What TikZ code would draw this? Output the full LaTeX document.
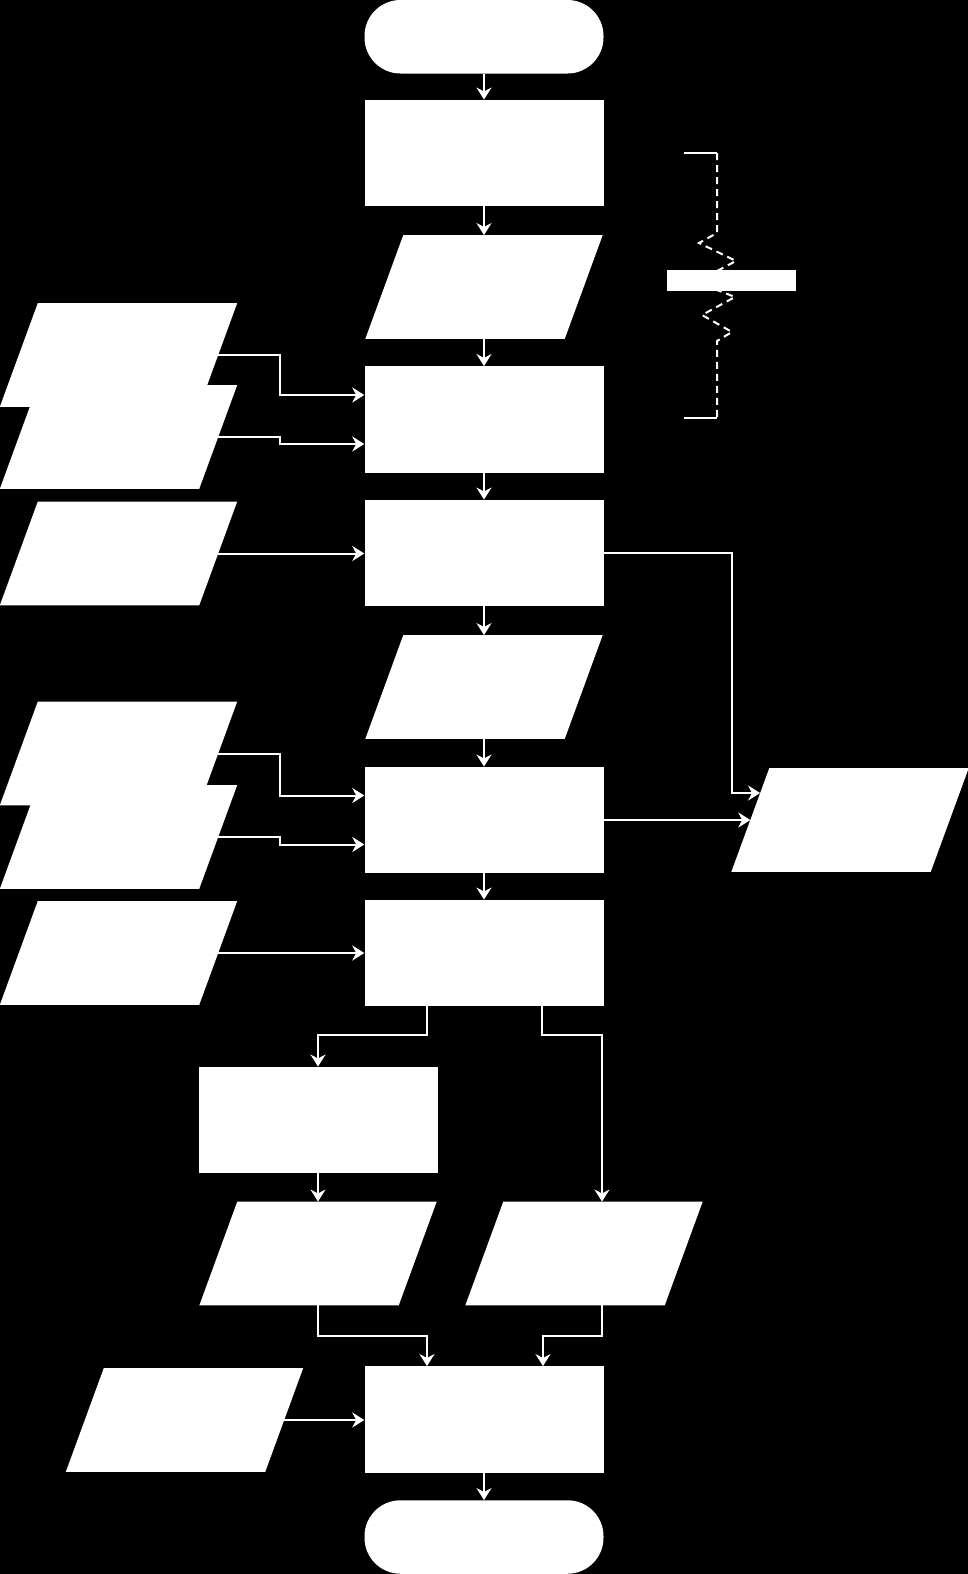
\documentclass[tikz,border=0pt]{standalone}
\usetikzlibrary{arrows.meta,calc}
\newcommand\iopara[3]{%
  \node[iobox] (#1) at (#2,#3) {};
  \fill[white] ($(#1.south west)+(-19,0)$) -- ($(#1.south east)+(-19,0)$) -- ($(#1.north east)+(19,0)$) -- ($(#1.north west)+(19,0)$) -- cycle;}
\begin{document}
\begin{tikzpicture}[x=1pt,y=1pt,
  proc/.style={rectangle,fill=white,draw=none,minimum width=239pt,minimum height=106.5pt,inner sep=0pt},
  term/.style={rectangle,rounded corners=36pt,fill=white,draw=none,minimum width=239pt,minimum height=73.5pt,inner sep=0pt},
  iobox/.style={rectangle,draw=none,fill=none,minimum width=199pt,minimum height=103.5pt,inner sep=0pt},
  conn/.style={draw=white,line width=2pt,-{Stealth[length=12pt,width=15pt]}},
  wline/.style={draw=white,line width=2pt},
  bar/.style={rectangle,fill=white,draw=none,minimum width=129pt,minimum height=21pt,inner sep=0pt}]
\fill[black] (0,0) rectangle (968,-1574);
\useasboundingbox (0,0) rectangle (968,-1574);
% break symbol
\draw[wline] (684,-153) -- (717,-153);
\draw[wline,dash pattern=on 7pt off 5pt] (717,-153) -- (717,-233) -- (699,-243) -- (736,-261) -- (717,-271) -- (717,-290) -- (735,-297) -- (702,-315) -- (732,-332) -- (717,-341) -- (717,-418);
\draw[wline] (717,-418) -- (684,-418);
\node[bar] (brk) at (731.5,-280.5) {};
% nodes
\node[term] (start) at (484,-36.75) {};
\node[proc] (A) at (484,-153) {};
\iopara{P1}{484}{-287}
\node[proc] (B) at (484,-419.5) {};
\iopara{L1}{118.5}{-355}
\iopara{L2}{118.5}{-437}
\node[proc] (C) at (484,-553) {};
\iopara{L3}{118.5}{-553.5}
\iopara{P2}{484}{-687}
\node[proc] (D) at (484,-820) {};
\iopara{L4}{118.5}{-753.5}
\iopara{L5}{118.5}{-837}
\iopara{R}{850}{-820}
\node[proc] (E) at (484,-953) {};
\iopara{L6}{118.5}{-953}
\node[proc] (F) at (318,-1120) {};
\iopara{P3}{318}{-1253.5}
\iopara{P4}{584}{-1253.5}
\iopara{L7}{184.5}{-1420}
\node[proc] (G) at (484,-1419.5) {};
\node[term] (end) at (484,-1537) {};
% connectors
\draw[conn] (start) -- (A);
\draw[conn] (A) -- (P1);
\draw[conn] (P1) -- (B);
\draw[conn] (B) -- (C);
\draw[conn] (C) -- (P2);
\draw[conn] (P2) -- (D);
\draw[conn] (D) -- (E);
\draw[conn] (G) -- (end);
\draw[conn] (L1.east) -| ($(B.west)+(-84,24.5)$) -- ([yshift=24.5]B.west);
\draw[conn] (L2.east) -| ($(B.west)+(-84,-24.5)$) -- ([yshift=-24.5]B.west);
\draw[conn] (L3.east) -- (L3.east -| C.west);
\draw[conn] (C.east) -| ($(R.west)+(-18,27)$) -- ($(R.west)+(9.8,27)$);
\draw[conn] (D.east) -- (R.west);
\draw[conn] (L4.east) -| ($(D.west)+(-84,24.5)$) -- ([yshift=24.5]D.west);
\draw[conn] (L5.east) -| ($(D.west)+(-84,-24.5)$) -- ([yshift=-24.5]D.west);
\draw[conn] (L6.east) -- (L6.east -| E.west);
\draw[conn] ([xshift=-57]E.south) -- ++(0,-29) -| (F.north);
\draw[conn] ([xshift=58]E.south) -- ++(0,-29) -| ([xshift=18]P4.north);
\draw[conn] (F) -- (P3);
\draw[conn] (P3.south) -- ++(0,-31) -| ([xshift=-57]G.north);
\draw[conn] ([xshift=18]P4.south) -- ++(0,-31) -| ([xshift=59]G.north);
\draw[conn] (L7.east) -- (L7.east -| G.west);
\end{tikzpicture}
\end{document}
